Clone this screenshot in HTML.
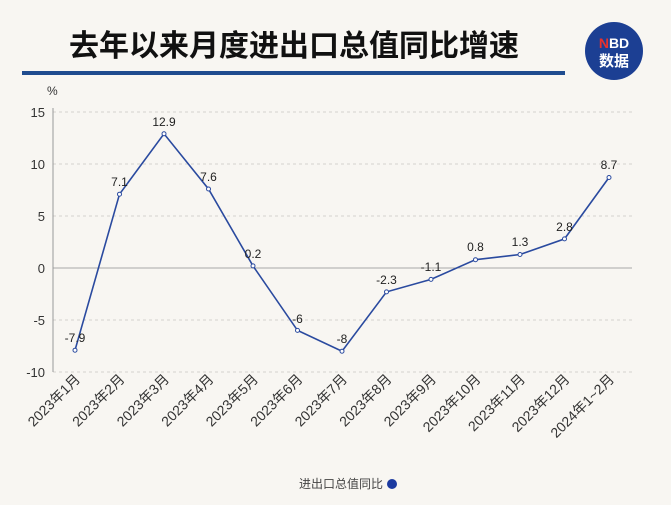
<!DOCTYPE html>
<html><head><meta charset="utf-8"><style>
body{margin:0;background:#f8f6f2;}
svg text{font-family:"Liberation Sans","Noto Sans CJK SC",sans-serif;}
</style></head><body>
<svg width="671" height="500" viewBox="0 0 671 500" xmlns="http://www.w3.org/2000/svg">
<rect width="671" height="500" fill="#f8f6f2"/>
<text x="294" y="56" font-size="30" font-weight="bold" text-anchor="middle" fill="#111" style="font-family:'Noto Sans CJK SC',sans-serif">去年以来月度进出口总值同比增速</text>
<rect x="22" y="71" width="543" height="4" fill="#1f4c8f"/>
<circle cx="614" cy="51" r="29" fill="#1c3f93"/>
<text x="614" y="48" font-size="14" font-weight="bold" fill="#fff" text-anchor="middle"><tspan fill="#e8322d">N</tspan>BD</text>
<text x="614" y="66" font-size="15" font-weight="bold" fill="#fff" text-anchor="middle" style="font-family:'Noto Sans CJK SC',sans-serif">数据</text>
<text x="47" y="95" font-size="12" fill="#333">%</text>
<g stroke="#d4d2ce" stroke-dasharray="3,3" stroke-width="1">
<line x1="53" y1="112" x2="632" y2="112"/><line x1="53" y1="164" x2="632" y2="164"/>
<line x1="53" y1="216" x2="632" y2="216"/><line x1="53" y1="320" x2="632" y2="320"/>
<line x1="53" y1="372" x2="632" y2="372"/></g>
<line x1="53" y1="268" x2="632" y2="268" stroke="#a8a8a8"/>
<line x1="53" y1="108" x2="53" y2="372" stroke="#999"/>
<g font-size="13" fill="#333" text-anchor="end">
<text x="45" y="117">15</text><text x="45" y="169">10</text><text x="45" y="221">5</text>
<text x="45" y="273">0</text><text x="45" y="325">-5</text><text x="45" y="377">-10</text></g>
<polyline fill="none" stroke="#2a4a9f" stroke-width="1.6" points="75,350.2 119.5,194.2 164,133.8 208.5,189 253,265.9 297.5,330.4 342,351.2 386.5,291.9 431,279.4 475.5,259.7 520,254.5 564.5,238.9 609,177.5"/>
<g fill="#fff" stroke="#2a4a9f" stroke-width="1">
<circle cx="75" cy="350.2" r="2"/><circle cx="119.5" cy="194.2" r="2"/><circle cx="164" cy="133.8" r="2"/><circle cx="208.5" cy="189" r="2"/><circle cx="253" cy="265.9" r="2"/><circle cx="297.5" cy="330.4" r="2"/><circle cx="342" cy="351.2" r="2"/><circle cx="386.5" cy="291.9" r="2"/><circle cx="431" cy="279.4" r="2"/><circle cx="475.5" cy="259.7" r="2"/><circle cx="520" cy="254.5" r="2"/><circle cx="564.5" cy="238.9" r="2"/><circle cx="609" cy="177.5" r="2"/></g>
<g font-size="12" fill="#222" text-anchor="middle">
<text x="75" y="342">-7.9</text><text x="119.5" y="186">7.1</text><text x="164" y="126">12.9</text><text x="208.5" y="181">7.6</text><text x="253" y="258">0.2</text><text x="297.5" y="323">-6</text><text x="342" y="343">-8</text><text x="386.5" y="284">-2.3</text><text x="431" y="271">-1.1</text><text x="475.5" y="251">0.8</text><text x="520" y="246">1.3</text><text x="564.5" y="231">2.8</text><text x="609" y="169">8.7</text></g>
<g font-size="14" fill="#333" text-anchor="end" style="font-family:'Liberation Sans','Noto Sans CJK SC',sans-serif">
<text transform="translate(81,380) rotate(-45)">2023年1月</text>
<text transform="translate(125.5,380) rotate(-45)">2023年2月</text>
<text transform="translate(170,380) rotate(-45)">2023年3月</text>
<text transform="translate(214.5,380) rotate(-45)">2023年4月</text>
<text transform="translate(259,380) rotate(-45)">2023年5月</text>
<text transform="translate(303.5,380) rotate(-45)">2023年6月</text>
<text transform="translate(348,380) rotate(-45)">2023年7月</text>
<text transform="translate(392.5,380) rotate(-45)">2023年8月</text>
<text transform="translate(437,380) rotate(-45)">2023年9月</text>
<text transform="translate(481.5,380) rotate(-45)">2023年10月</text>
<text transform="translate(526,380) rotate(-45)">2023年11月</text>
<text transform="translate(570.5,380) rotate(-45)">2023年12月</text>
<text transform="translate(615,380) rotate(-45)">2024年1~2月</text></g>
<text x="383" y="488" font-size="12" fill="#444" text-anchor="end" style="font-family:'Noto Sans CJK SC',sans-serif">进出口总值同比</text>
<circle cx="392" cy="484" r="5" fill="#1c3aa0"/>
</svg>
</body></html>
